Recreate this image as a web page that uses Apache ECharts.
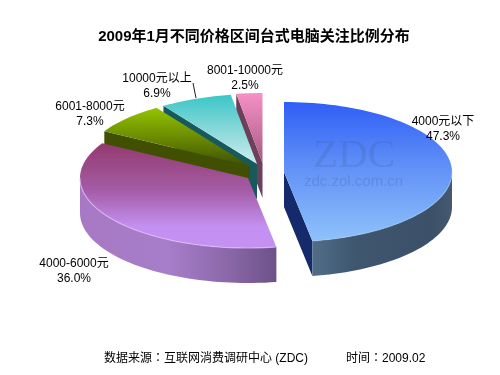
<!DOCTYPE html>
<html>
<head>
<meta charset="utf-8">
<style>
html, body { margin: 0; padding: 0; background: #fff; }
#chart { width: 500px; height: 375px; }
</style>
<script src="https://cdn.jsdelivr.net/npm/echarts@6/dist/echarts.min.js"></script>
</head>
<body>
<div id="chart"></div>
<script>
var categories = ['4000元以下', '4000-6000元', '6001-8000元', '10000元以上', '8001-10000元'];
var shares = [47.3, 36.0, 7.3, 6.9, 2.5];

// exploded centre of each slice, same order as categories
var centers = [[284, 172], [248, 178], [250, 166], [257, 164], [262.5, 163]];
var labelPos = [[443, 121], [74, 263], [90, 106], [157, 78], [245, 70]];
// back slices first, each one hides most of the cut face of the one before
var paintOrder = [4, 3, 2, 1, 0];

var RX = 168, RY = 70, DEPTH = 35;
var FONT = '"Liberation Sans", "Noto Sans CJK SC", sans-serif';
var FOOT_FONT = '"Liberation Sans", "Noto Sans CJK TC", sans-serif';

var tops = [
    [[0, '#2f5ef6'], [0.45, '#5f8ff6'], [1, '#8fc2fb']],
    [[0, '#933a6e'], [0.45, '#a45ca6'], [0.8, '#c491f2'], [1, '#c491f2']],
    [[0, '#93c400'], [0.5, '#6c8c00'], [1, '#3f5000']],
    [[0, '#3bc6c8'], [0.55, '#8fdadb'], [1, '#cdeeee']],
    [[0, '#f591c5'], [0.6, '#c8709f'], [1, '#a5587f']]
];
var walls = ['#152a6b', '#6b4f85', '#405000', '#175a5e', '#6b4058'];
var rims = [
    [[0, '#506d88'], [0.3, '#3f566f'], [0.85, '#3c5068'], [1, '#44586f']],
    [[0, '#a878c4'], [0.45, '#a67ec9'], [0.75, '#8c68aa'], [1, '#6c5187']]
];
var edges = ['#a9d2fd', '#e6bdfd'];

function startAngle(index) {
    var sum = 0;
    for (var i = 0; i < index; i++) {
        sum += shares[i];
    }
    return sum * 3.6;
}

function rad(deg) {
    return deg * Math.PI / 180;
}

function arcPoints(c, from, to, dy) {
    var pts = [];
    var n = Math.max(2, Math.ceil(Math.abs(to - from) / 2));
    for (var i = 0; i <= n; i++) {
        var a = rad(from + (to - from) * i / n);
        pts.push([c[0] + RX * Math.sin(a), c[1] - RY * Math.cos(a) + dy]);
    }
    return pts;
}

function gradient(x2, y2, stops) {
    return new echarts.graphic.LinearGradient(0, 0, x2, y2, stops.map(function (s) {
        return { offset: s[0], color: s[1] };
    }));
}

function wall(c, angle, color) {
    var a = rad(angle);
    var x = c[0] + RX * Math.sin(a);
    var y = c[1] - RY * Math.cos(a);
    return {
        type: 'polygon',
        shape: { points: [[c[0], c[1]], [x, y], [x, y + DEPTH], [c[0], c[1] + DEPTH]] },
        style: { fill: color }
    };
}

function renderSlice(params, api) {
    var i = api.value(0);
    var a1 = startAngle(i);
    var a2 = a1 + api.value(1) * 3.6;
    var c = centers[i];
    var children = [];

    // cut faces that look towards the viewer
    if (Math.sin(rad(a1)) < -1e-6) {
        children.push(wall(c, a1, walls[i]));
    }
    if (Math.sin(rad(a2)) > 1e-6) {
        children.push(wall(c, a2, walls[i]));
    }

    // outer rim, only the front half of the ellipse shows
    var r1 = Math.max(a1, 90), r2 = Math.min(a2, 270);
    if (r2 > r1) {
        children.push({
            type: 'polygon',
            shape: { points: arcPoints(c, r1, r2, 0).concat(arcPoints(c, r2, r1, DEPTH)) },
            style: { fill: gradient(1, 0, rims[i]) }
        });
    }

    children.push({
        type: 'polygon',
        shape: { points: [c].concat(arcPoints(c, a1, a2, 0)) },
        style: { fill: gradient(0, 1, tops[i]) }
    });

    if (r2 > r1) {
        children.push({
            type: 'polyline',
            shape: { points: arcPoints(c, r1, r2, 0) },
            style: { fill: null, stroke: edges[i], lineWidth: 1.2, opacity: i === 0 ? 0.4 : 0.7 }
        });
    }

    children.push({
        type: 'text',
        z2: 10,
        style: {
            x: labelPos[i][0],
            y: labelPos[i][1],
            text: categories[i] + '\n' + shares[i].toFixed(1) + '%',
            align: 'center',
            verticalAlign: 'top',
            font: '12px ' + FONT,
            lineHeight: 15,
            fill: '#000'
        },
        y: -7
    });

    return { type: 'group', children: children };
}

var chart = echarts.init(document.getElementById('chart'));

var option = {
    animation: false,
    backgroundColor: '#fff',
    title: [
        {
            text: '2009年1月不同价格区间台式电脑关注比例分布',
            left: 254,
            top: 29,
            padding: 0,
            textAlign: 'center',
            textStyle: { color: '#000', fontSize: 15, fontWeight: 'bold', fontFamily: FONT }
        },
        {
            text: '数据来源：互联网消费调研中心 (ZDC)',
            left: 104,
            top: 353,
            padding: 0,
            textStyle: { color: '#000', fontSize: 12, fontWeight: 'normal', fontFamily: FOOT_FONT }
        },
        {
            text: '时间：2009.02',
            left: 346,
            top: 353,
            padding: 0,
            textStyle: { color: '#000', fontSize: 12, fontWeight: 'normal', fontFamily: FOOT_FONT }
        }
    ],
    series: [
        {
            type: 'custom',
            coordinateSystem: 'none',
            silent: true,
            renderItem: renderSlice,
            data: paintOrder.map(function (i) {
                return [i, shares[i]];
            })
        }
    ],
    graphic: [
        {
            type: 'text',
            z: 20,
            left: 313,
            top: 136,
            style: {
                text: 'ZDC',
                font: '41px "Liberation Serif", serif',
                fill: 'rgba(60, 90, 150, 0.2)'
            }
        },
        {
            type: 'text',
            z: 20,
            left: 304,
            top: 174,
            style: {
                text: 'zdc.zol.com.cn',
                font: '15px ' + FONT,
                fill: 'rgba(60, 90, 150, 0.25)'
            }
        },
        {
            // leader of the 10000元以上 label
            type: 'line',
            z: 20,
            shape: { x1: 193, y1: 83, x2: 196, y2: 98 },
            style: { stroke: '#222', lineWidth: 1 }
        }
    ]
};

chart.setOption(option);
</script>
</body>
</html>
